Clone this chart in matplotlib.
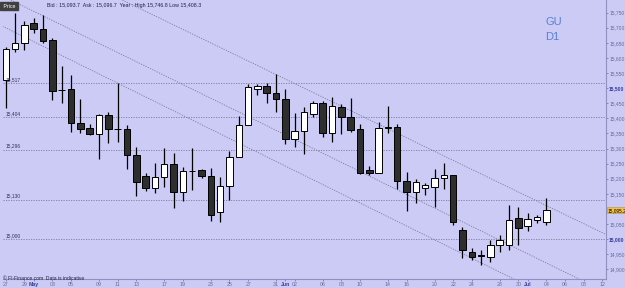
import numpy as np
import matplotlib.pyplot as plt

plt.rcParams['font.family'] = ['Liberation Sans', 'DejaVu Sans']

# daily candles, GU D1 (index = trading day, Sundays included)
opens = [15527, 15630, 15650, 15716, 15696, 15660, 15495, 15497, 15385, 15368,
         15348, 15411, 15366, 15365, 15279, 15209, 15170, 15206, 15249, 15156,
         15226, 15229, 15209, 15090, 15176, 15272, 15378, 15497, 15507, 15484,
         15464, 15332, 15358, 15415, 15451, 15352, 15438, 15405, 15365, 15229,
         15219, 15368, 15372, 15193, 15156, 15170, 15173, 15203, 15213, 15031,
         14958, 14948, 14941, 14981, 14981, 15070, 15044, 15064, 15057]
highs = [15636, 15749, 15722, 15732, 15742, 15666, 15574, 15544, 15464, 15382,
         15415, 15421, 15517, 15378, 15305, 15219, 15252, 15302, 15286, 15239,
         15302, 15232, 15236, 15206, 15292, 15408, 15514, 15514, 15517, 15547,
         15497, 15418, 15438, 15458, 15458, 15471, 15448, 15468, 15382, 15242,
         15388, 15441, 15382, 15223, 15199, 15186, 15232, 15252, 15213, 15040,
         14971, 14964, 14997, 15014, 15113, 15107, 15085, 15080, 15135]
lows = [15434, 15620, 15627, 15683, 15650, 15461, 15451, 15355, 15352, 15345,
        15266, 15319, 15322, 15232, 15143, 15160, 15153, 15173, 15103, 15127,
        15163, 15203, 15060, 15057, 15130, 15272, 15378, 15477, 15451, 15421,
        15315, 15305, 15282, 15405, 15338, 15322, 15348, 15355, 15216, 15213,
        15219, 15352, 15166, 15094, 15120, 15146, 15107, 15166, 15047, 14938,
        14931, 14915, 14925, 14958, 14964, 14981, 15027, 15055, 15047]
closes = [15630, 15650, 15709, 15696, 15656, 15491, 15494, 15385, 15365, 15348,
          15411, 15365, 15365, 15279, 15190, 15170, 15206, 15249, 15156, 15226,
          15225, 15209, 15080, 15176, 15272, 15378, 15504, 15507, 15484, 15464,
          15332, 15358, 15421, 15451, 15352, 15441, 15405, 15362, 15219, 15219,
          15368, 15372, 15193, 15156, 15190, 15180, 15203, 15213, 15057, 14964,
          14941, 14945, 14981, 14997, 15064, 15037, 15067, 15072, 15095.2]

tick_idx = [0, 2, 3, 5, 7, 10, 12, 14, 17, 19, 22, 24, 26, 29, 30, 31, 34, 36,
            38, 41, 43, 46, 48, 50, 53, 55, 56, 58, 60, 62, 64]
tick_lbl = ["27", "29", "May", "03", "05", "09", "11", "13", "17", "19", "23",
            "25", "27", "31", "Jun", "02", "06", "08", "10", "14", "16", "20",
            "22", "24", "28", "30", "Jul", "04", "06", "08", "12"]

price_ticks = [14900, 14950, 15000, 15050, 15150, 15200, 15250, 15300, 15350,
               15400, 15450, 15500, 15550, 15600, 15650, 15700, 15750]

levels = [15517, 15404, 15296, 15130, 15000]
level_lbl = ["15,517", "15,404", "15,296", "15,130", "15,000"]

# trend lines: (index0, price0, index1, price1)
trend_lines = [(-0.6, 15709, 54.7, 14865),
               (-0.6, 15809, 61.7, 14865),
               (12.5, 15792, 64.5, 15014)]

last_price = 15095.2

bg = "#cbcbf6"
fig = plt.figure(figsize=(6.25, 2.88), dpi=100, facecolor=bg)
ax = fig.add_axes([3 / 625, 9 / 288, 603 / 625, 279 / 288])
ax.set_facecolor(bg)

x = np.arange(len(opens))
o = np.array(opens)
c = np.array(closes)
up = c >= o
body_lo = np.minimum(o, c)
body_h = np.abs(c - o)

ax.vlines(x, lows, highs, color="black", lw=0.9, zorder=3)
ax.bar(x[up], body_h[up], bottom=body_lo[up], width=0.7,
       color="white", edgecolor="black", lw=0.7, zorder=4)
ax.bar(x[~up], body_h[~up], bottom=body_lo[~up], width=0.7,
       color="#2e2e2e", edgecolor="black", lw=0.7, zorder=4)

for x0, p0, x1, p1 in trend_lines:
    ax.plot([x0, x1], [p0, p1], color="#7c7c9c", lw=0.6, ls=(0, (1.5, 1.5)), zorder=2)

for lv, lb in zip(levels, level_lbl):
    ax.axhline(lv, color="#7c7c9c", lw=0.6, ls=(0, (1.5, 1.5)), zorder=2)
    ax.text(0.0, lv + 4, lb, fontsize=3.5, color="#333355", va="bottom", ha="left", zorder=5)

ax.set_xlim(-0.3, 64.4)
ax.set_ylim(14868, 15792)

ax.yaxis.tick_right()
ax.set_yticks(price_ticks)
ax.set_yticklabels([f"{v:,}" for v in price_ticks])
ax.tick_params(axis="y", labelsize=3.6, colors="#6a6a9a", length=1.5, width=0.5, pad=0.8)
for lab in ax.get_yticklabels():
    if lab.get_text() in ("15,500", "15,000"):
        lab.set_color("#3a3aa0")
        lab.set_fontweight("bold")

ax.set_xticks(tick_idx)
ax.set_xticklabels(tick_lbl)
ax.tick_params(axis="x", labelsize=3.8, colors="#6a6a9a", length=1.5, width=0.5, pad=1)
for lab in ax.get_xticklabels():
    if lab.get_text() in ("May", "Jun", "Jul"):
        lab.set_color("#3a3aa0")
        lab.set_fontweight("bold")

for s in ["top", "left"]:
    ax.spines[s].set_visible(False)
ax.spines["right"].set_color("#8f8fc0")
ax.spines["bottom"].set_color("#8f8fc0")

ax.text(1.002, last_price, f"{last_price:,.1f}", transform=ax.get_yaxis_transform(),
        fontsize=3.4, color="black", va="center", ha="left", zorder=6,
        bbox=dict(boxstyle="square,pad=0.12", fc="#f0c050", ec="#c09030", lw=0.4))

fig.text(2 / 625, 1 - 6 / 288, " Price ", fontsize=3.8, color="white", va="center",
         bbox=dict(boxstyle="square,pad=0.3", fc="#404040", ec="#404040"))
fig.text(47 / 625, 1 - 6 / 288,
         "Bid : 15,093.7  Ask : 15,096.7  Year : High 15,746.8 Low 15,408.3",
         fontsize=3.8, color="#202040", va="center")
fig.text(545 / 625, 1 - 22 / 288, "GU", fontsize=8, color="#5a80d0", va="center")
fig.text(545 / 625, 1 - 37 / 288, "D1", fontsize=8, color="#5a80d0", va="center")
fig.text(3 / 625, 1 - 278 / 288, "© FI-Finance.com  Data is indicative",
         fontsize=3.6, color="#202040", va="center")

fig.savefig("out.png", dpi=100, facecolor=bg)
